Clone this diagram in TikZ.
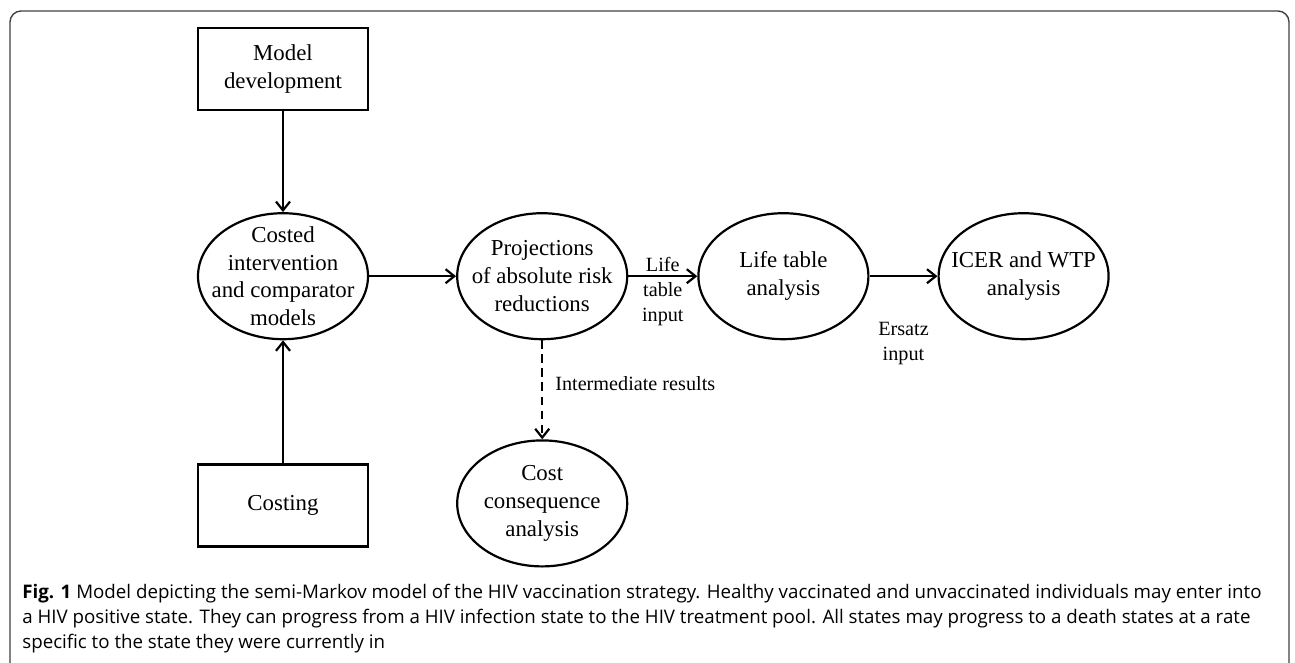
\documentclass[tikz,border=0pt]{standalone}
\usepackage{fontspec}
\setmainfont{Liberation Serif}
\newfontfamily\capfont{Open Sans}
\usepackage{tikz}
\usetikzlibrary{shapes,arrows.meta}
\usetikzlibrary{positioning}
\tikzstyle{block} = [rectangle, draw, line width=1.25pt, text centered,
    minimum width=3.4cm, minimum height=1.64cm, inner sep=0pt,
    font=\fontsize{13}{15.8}\selectfont, align=center]
\tikzstyle{state} = [ellipse, draw, line width=1.25pt, text centered,
    minimum width=3.4cm, minimum height=2.52cm, inner sep=-0.5cm,
    font=\fontsize{13}{15.8}\selectfont, align=center]
\tikzstyle{line} = [draw, line width=1.25pt, -{Straight Barb[length=5pt,width=8pt]}]
\tikzstyle{lbl} = [font=\fontsize{11.5}{14.2}\selectfont, align=center, inner sep=0pt]

\begin{document}
\begin{tikzpicture}
  \useasboundingbox (0,0) rectangle (25.9,-13.24);
  % frame
  \draw [line width=0.8pt, black!75, rounded corners=0.22cm]
    (0.2,-13.5) -- (0.2,-0.22) -- (25.78,-0.22) -- (25.78,-13.5);

  % Place nodes
  \node [block] (model) at (5.66,-1.38) {Model\\development};
  \node [state, below=2.02cm of model] (costed)
    {Costed\\intervention\\and comparator\\models};
  \node [block, below=2.46cm of costed] (costing) {Costing};
  \node [state, right=1.74cm of costed] (proj)
    {Projections\\of absolute risk\\reductions};
  \node [state, right=1.38cm of proj] (life) {Life table\\analysis};
  \node [state, right=1.36cm of life] (icer) {ICER and WTP\\analysis};
  \node [state, below=1.98cm of proj] (cons)
    {Cost\\consequence\\analysis};

  % Connectors
  \path [line] (model) -- (costed);
  \path [line] (costing) -- (costed);
  \path [line] (costed) -- (proj);
  \path [line] (proj) -- node [lbl, yshift=-0.3cm] {Life\\table\\input} (life);
  \path [line] (life) -- node [lbl, yshift=-1.34cm] {Ersatz\\input} (icer);
  \path [line, dashed, dash pattern=on 5pt off 3pt] (proj) --
    node [lbl, right=0.24cm, yshift=0.12cm] {Intermediate results} (cons);

  % caption
  \node [anchor=north west, inner sep=0pt, align=left,
    font=\capfont\fontsize{10.65}{14.2}\selectfont] (caption) at (0.44,-11.67)
    {\textbf{Fig. 1} Model depicting the semi-Markov model of the HIV vaccination strategy. Healthy vaccinated and unvaccinated individuals may enter into\\
     a HIV positive state. They can progress from a HIV infection state to the HIV treatment pool. All states may progress to a death states at a rate\\
     specific to the state they were currently in};
\end{tikzpicture}
\end{document}
